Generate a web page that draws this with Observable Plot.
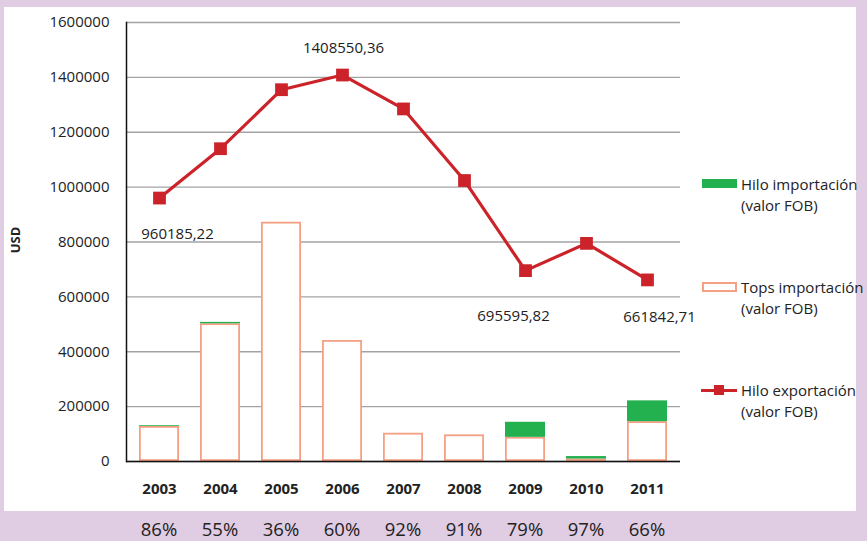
<!DOCTYPE html>
<html><head><meta charset="utf-8">
<script src="https://cdn.jsdelivr.net/npm/d3@7"></script>
<script src="https://cdn.jsdelivr.net/npm/@observablehq/plot@0.6"></script>
<style>
body{margin:0;background:#e0cce3;width:867px;height:541px;overflow:hidden;position:relative;font-family:"Open Sans",sans-serif;color:#222}
#panel{position:absolute;left:4px;top:7px;width:852px;height:504px;background:#fff}
.pct{position:absolute;top:519px;font-size:18.5px;line-height:20px;transform:translateX(-50%);white-space:nowrap;color:#222}
.legt{position:absolute;font-size:15px;line-height:21px;white-space:nowrap;color:#222}
.ylab{position:absolute;left:15px;top:240px;font-size:13px;font-weight:bold;transform:translate(-50%,-50%) rotate(-90deg);color:#222}
</style></head><body>
<div id="panel"></div>
<script>
const years = ["2003","2004","2005","2006","2007","2008","2009","2010","2011"];
const hiloExport = [960185.22, 1140000, 1355000, 1408550.36, 1285000, 1024000, 695595.82, 795000, 661842.71];
const topsImport = [127500, 502000, 872000, 441000, 103000, 97000, 88000, 9000, 145000];
const hiloImport = [3000, 5000, 0, 0, 0, 0, 55000, 9000, 76000];
const percents = ["86%","55%","36%","60%","92%","91%","79%","97%","66%"];
const yTicks = [0,200000,400000,600000,800000,1000000,1200000,1400000,1600000];
const legendLabels = [["Hilo importación","(valor FOB)"],["Tops importación","(valor FOB)"],["Hilo exportación","(valor FOB)"]];

const rows = years.map((y,i)=>({year:y, exp:hiloExport[i], tops:topsImport[i], hilo:hiloImport[i], pct:percents[i]}));
const fmt = v => v.toFixed(2).replace(".", ",");
const RED = "#cc2229", GREEN = "#23b04e", ORANGE = "#f5a083";

const lbl = (yr, dx, dy) => Plot.text(rows, {filter: d => d.year === yr, x: "year", y: "exp", text: d => fmt(d.exp), dx, dy, fontSize: 15, fill: "#222"});

const plot = Plot.plot({
  width: 852, height: 504,
  marginLeft: 122, marginRight: 176, marginTop: 15, marginBottom: 50,
  style: {fontFamily: "Open Sans, sans-serif", fontSize: "15px", color: "#222", background: "transparent", overflow: "visible"},
  x: {domain: years, paddingInner: 0.35, paddingOuter: 0.175},
  y: {domain: [0, 1600000]},
  marks: [
    Plot.gridY(yTicks, {stroke: "#a3a3a3", strokeOpacity: 1, strokeWidth: 1.4}),
    Plot.barY(rows, {x: "year", y1: d => 0, y2: "tops", fill: "white", stroke: ORANGE, strokeWidth: 1.8, inset: 0.9}),
    Plot.barY(rows, {filter: d => d.hilo > 0, x: "year", y1: "tops", y2: d => d.tops + d.hilo, fill: GREEN}),
    Plot.ruleY([0], {stroke: "#111", strokeWidth: 1.5}),
    Plot.frame({anchor: "left", stroke: "#111", strokeWidth: 1.5}),
    Plot.axisY({ticks: yTicks, tickSize: 0, tickPadding: 17, tickFormat: d3.format("d"), fontSize: 15, label: null}),
    Plot.axisX({tickSize: 0, tickPadding: 22, fontWeight: "bold", fontSize: 15, label: null}),
    Plot.line(rows, {x: "year", y: "exp", stroke: RED, strokeWidth: 3.2}),
    Plot.dot(rows, {x: "year", y: "exp", symbol: "square", r: 7.2, fill: RED, stroke: "none"}),
    lbl("2003", 18, 36),
    lbl("2006", 1, -27),
    lbl("2009", -12, 46),
    lbl("2011", 12, 37)
  ]
});
document.getElementById("panel").appendChild(plot);

// percentage row aligned with the x scale
const xs = plot.scale("x");
rows.forEach(d => {
  const s = document.createElement("div");
  s.className = "pct";
  s.textContent = d.pct;
  s.style.left = (4 + xs.apply(d.year) + xs.bandwidth / 2) + "px";
  document.body.appendChild(s);
});

// y label
const yl = document.createElement("div");
yl.className = "ylab"; yl.textContent = "USD";
document.body.appendChild(yl);

// legend
function add(tag, css, text){ const e = document.createElement(tag); e.style.cssText = css; if (text) e.innerHTML = text; document.body.appendChild(e); return e; }
add("div", "position:absolute;left:702px;top:179px;width:35px;height:9px;background:" + GREEN);
add("div", "position:absolute;left:702px;top:282px;width:35px;height:10px;box-sizing:border-box;border:2px solid " + ORANGE + ";background:#fff");
add("div", "position:absolute;left:701px;top:388.5px;width:36px;height:3px;background:" + RED);
add("div", "position:absolute;left:714px;top:385px;width:10px;height:10px;background:" + RED);
const legTops = [173.5, 276.5, 379.5];
legendLabels.forEach((l, i) => {
  const e = add("div", "", l.join("<br>"));
  e.className = "legt"; e.style.left = "741px"; e.style.top = legTops[i] + "px";
});
</script>
</body></html>
